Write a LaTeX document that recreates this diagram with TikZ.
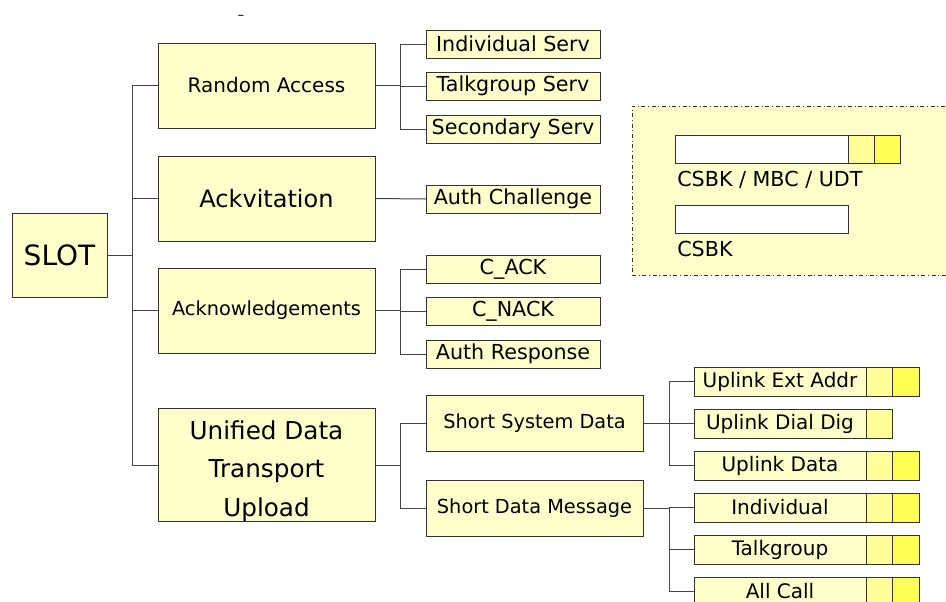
\documentclass[tikz,border=0pt]{standalone}
\usepackage{fontspec}
\setmainfont{DejaVu Sans}
\def\u{0.75pt}
\definecolor{boxfill}{HTML}{FFFFCC}
\definecolor{segA}{HTML}{FFFF99}
\definecolor{segB}{HTML}{FFFF55}
\definecolor{edge}{HTML}{444444}
\definecolor{bord}{HTML}{333333}
\tikzset{
  box/.style={draw=bord, line width=0.75pt, fill=boxfill, inner sep=0pt, outer sep=0pt, align=center},
  leaf/.style={box, minimum width=174*\u, minimum height=28*\u, font=\fontsize{15.5}{18}\selectfont},
  rleaf/.style={box, minimum width=172*\u, minimum height=29*\u, font=\fontsize{15}{18}\selectfont},
  mid/.style={box, minimum width=217*\u, font=\fontsize{15}{18}\selectfont},
  sega/.style={draw=bord, line width=0.75pt, fill=segA, inner sep=0pt, outer sep=0pt, minimum width=26*\u, minimum height=29*\u},
  segb/.style={draw=bord, line width=0.75pt, fill=segB, inner sep=0pt, outer sep=0pt, minimum width=27*\u, minimum height=29*\u},
  conn/.style={draw=edge, line width=0.75pt},
}
\begin{document}
\begin{tikzpicture}[x=\u, y=-\u]
\useasboundingbox (0,0) rectangle (946,601);
\fill[white] (0,0) rectangle (946,601);
% legend
\node[draw=bord, line width=0.75pt, dash dot, fill=boxfill, inner sep=0pt, outer sep=0pt, minimum width=320*\u, minimum height=169*\u] (legend) at (792,190.5) {};
\node[draw=bord, line width=0.75pt, fill=white, inner sep=0pt, minimum width=173*\u, minimum height=28*\u] (lbar1) at (761.5,149) {};
\node[sega, minimum height=28*\u] (lseg1) at (861,149) {};
\node[segb, minimum width=26*\u, minimum height=28*\u] (lseg2) at (887,149) {};
\node[anchor=west, inner sep=0pt, font=\fontsize{15.5}{18}\selectfont] (ltext1) at (677,180) {CSBK / MBC / UDT};
\node[draw=bord, line width=0.75pt, fill=white, inner sep=0pt, minimum width=173*\u, minimum height=28*\u] (lbar2) at (761.5,219) {};
\node[anchor=west, inner sep=0pt, font=\fontsize{15.5}{18}\selectfont] (ltext2) at (677,249) {CSBK};
% dash
\node[inner sep=0pt, font=\fontsize{10}{12}\selectfont] (dash) at (241,17) {–};
% root
\node[box, minimum width=95*\u, minimum height=84*\u, font=\fontsize{21}{25}\selectfont] (slot) at (59.5,255) {SLOT};
% level 1
\node[mid, minimum height=85*\u] (ra) at (266.5,85.5) {Random Access};
\node[mid, minimum height=85*\u, font=\fontsize{18}{21}\selectfont] (ack) at (266.5,198.5) {Ackvitation};
\node[mid, minimum height=85*\u, font=\fontsize{14.5}{17}\selectfont] (acks) at (266.5,310.5) {Acknowledgements};
\node[mid, minimum height=112*\u, font=\fontsize{18.5}{29}\selectfont] (udt) at (266.5,465) {\rule{0pt}{23pt}Unified Data\\Transport\\Upload};
% level 2 leaves
\node[leaf] (is) at (513,44) {Individual Serv};
\node[leaf] (ts) at (513,86) {Talkgroup Serv};
\node[leaf] (ss) at (513,129) {Secondary Serv};
\node[leaf] (ac) at (513,199) {Auth Challenge};
\node[leaf] (cack) at (513,269) {C\_ACK};
\node[leaf] (cnack) at (513,311) {C\_NACK};
\node[leaf] (ar) at (513,354) {Auth Response};
\node[mid, minimum height=56*\u, font=\fontsize{14.5}{17}\selectfont] (ssd) at (534.5,423) {Short System Data};
\node[mid, minimum height=56*\u, font=\fontsize{14.5}{17}\selectfont] (sdm) at (534.5,508) {Short Data Message};
% level 3 leaves
\node[rleaf] (uea) at (780,381.5) {Uplink Ext Addr};
\node[sega, anchor=west] (uea1) at (uea.east) {};
\node[segb, anchor=west] (uea2) at (uea1.east) {};
\node[rleaf] (udd) at (780,423.5) {Uplink Dial Dig};
\node[sega, anchor=west] (udd1) at (udd.east) {};
\node[rleaf] (ud) at (780,465.5) {Uplink Data};
\node[sega, anchor=west] (ud1) at (ud.east) {};
\node[segb, anchor=west] (ud2) at (ud1.east) {};
\node[rleaf] (ind) at (780,507.5) {Individual};
\node[sega, anchor=west] (ind1) at (ind.east) {};
\node[segb, anchor=west] (ind2) at (ind1.east) {};
\node[rleaf] (tg) at (780,549.5) {Talkgroup};
\node[sega, anchor=west] (tg1) at (tg.east) {};
\node[segb, anchor=west] (tg2) at (tg1.east) {};
\node[rleaf] (all) at (780,591.5) {All Call};
\node[sega, anchor=west] (all1) at (all.east) {};
\node[segb, anchor=west] (all2) at (all1.east) {};
% connectors
\draw[conn] (slot.east) -- ++(25,0) coordinate (j0);
\draw[conn] (ra.west) -| (j0);
\draw[conn] (ack.west) -| (j0);
\draw[conn] (acks.west) -| (j0);
\draw[conn] (udt.west) -| (j0);
\draw[conn] (ra.east) -- ++(25,0) coordinate (j1);
\draw[conn] (is.west) -| (j1);
\draw[conn] (ts.west) -| (j1);
\draw[conn] (ss.west) -| (j1);
\draw[conn] (ack.east) -- (ac.west);
\draw[conn] (acks.east) -- ++(25,0) coordinate (j2);
\draw[conn] (cack.west) -| (j2);
\draw[conn] (cnack.west) -| (j2);
\draw[conn] (ar.west) -| (j2);
\draw[conn] (udt.east) -- ++(25,0) coordinate (j3);
\draw[conn] (ssd.west) -| (j3);
\draw[conn] (sdm.west) -| (j3);
\draw[conn] (ssd.east) -- ++(26,0) coordinate (j4);
\draw[conn] (uea.west) -| (j4);
\draw[conn] (udd.west) -| (j4);
\draw[conn] (ud.west) -| (j4);
\draw[conn] (sdm.east) -- ++(26,0) coordinate (j5);
\draw[conn] (ind.west) -| (j5);
\draw[conn] (tg.west) -| (j5);
\draw[conn] (all.west) -| (j5);
\end{tikzpicture}
\end{document}
